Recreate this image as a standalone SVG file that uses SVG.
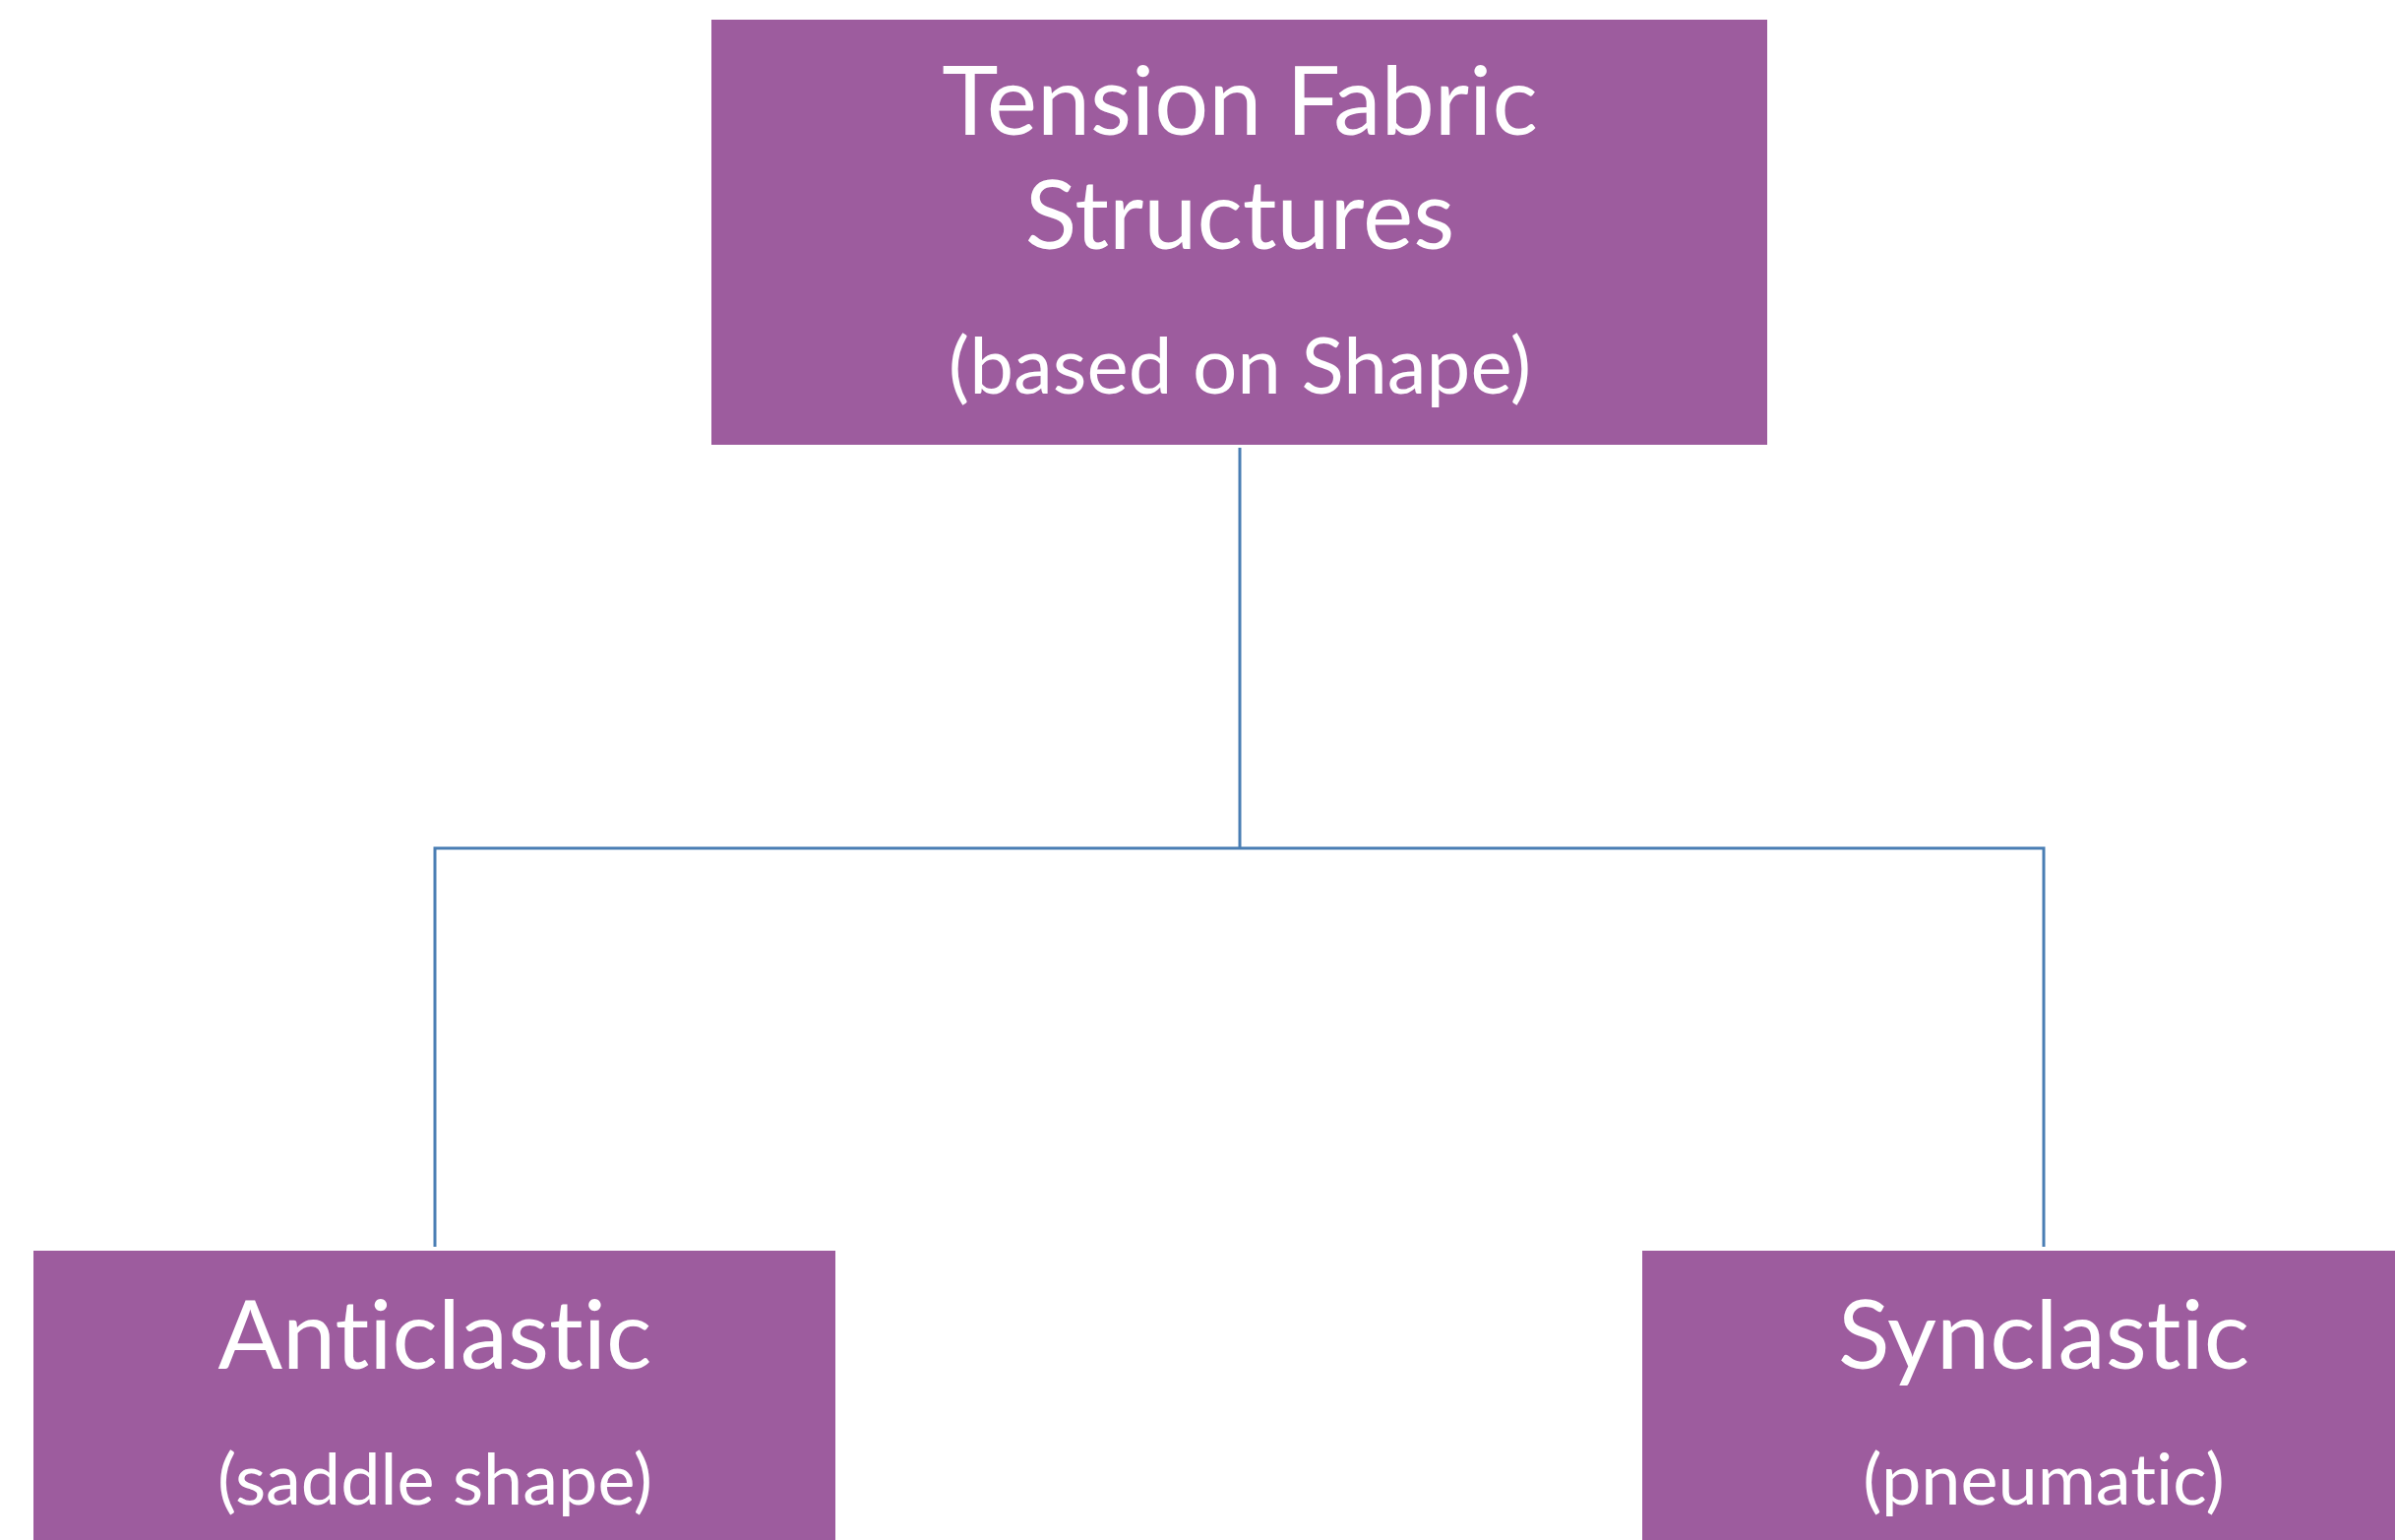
<svg xmlns="http://www.w3.org/2000/svg" width="2434" height="1565" viewBox="0 0 2434 1565">
  <style>
    text { font-family: Lato, "Liberation Sans", sans-serif; fill: #FFFFFF; text-anchor: middle; font-variant-ligatures: none; font-feature-settings: "liga" 0, "clig" 0; }
    .box { fill: #9D5C9E; }
    .title { font-size: 97px; }
    .sub { font-size: 80px; }
    .sub-small { font-size: 72px; }
    .link { fill: none; stroke: #4A7EB4; stroke-width: 3; }
  </style>
  <rect width="2434" height="1565" fill="#FFFFFF"/>

  <!-- Tree connectors -->
  <g id="connectors">
    <path class="link" d="M1260 455 V862"/>
    <path class="link" d="M442 1267 V862 H2077 V1267"/>
  </g>

  <!-- Root node -->
  <g id="node-root">
    <rect class="box" x="723" y="20" width="1073" height="432"/>
    <text class="title" x="1260" y="137">Tension Fabric</text>
    <text class="title" x="1260" y="253">Structures</text>
    <text class="sub" x="1260" y="400">(based on Shape)</text>
  </g>

  <!-- Left child -->
  <g id="node-anticlastic">
    <rect class="box" x="34" y="1271" width="815" height="320"/>
    <text class="title" x="442" y="1391">Anticlastic</text>
    <text class="sub-small" x="442" y="1529">(saddle shape)</text>
  </g>

  <!-- Right child -->
  <g id="node-synclastic">
    <rect class="box" x="1669" y="1271" width="816" height="320"/>
    <text class="title" x="2077" y="1391">Synclastic</text>
    <text class="sub-small" x="2077" y="1529">(pneumatic)</text>
  </g>
</svg>
